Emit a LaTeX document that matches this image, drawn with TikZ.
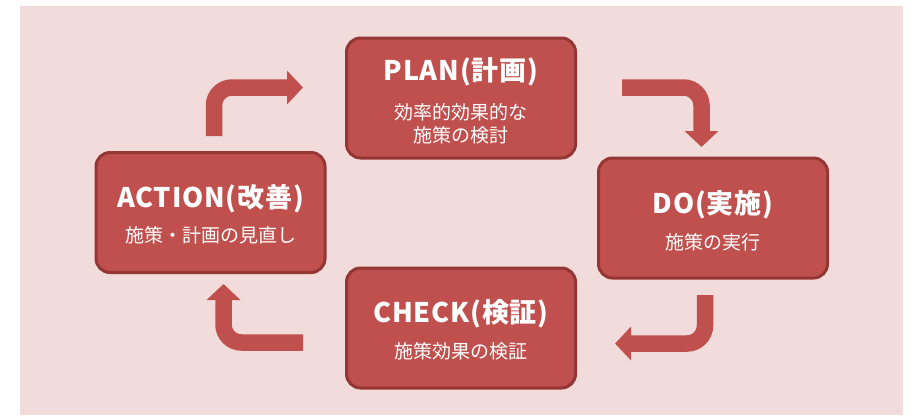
\documentclass[tikz,border=0pt]{standalone}
\usepackage{fontspec}
\setmainfont{Noto Sans CJK JP}
\usetikzlibrary{arrows.meta,calc}
\definecolor{bgpink}{HTML}{F2DCDB}
\definecolor{boxred}{HTML}{C0504D}
\definecolor{boxedge}{HTML}{943634}
\tikzset{
  cyclebox/.style={draw=boxedge, fill=boxred, line width=3pt, rounded corners=14pt,
    minimum width=229pt, minimum height=120pt, inner sep=0pt},
  titletext/.style={text=white, font=\fontsize{27}{30}\selectfont\bfseries\addfontfeature{LetterSpace=3}, anchor=base, inner sep=0pt},
  subtext/.style={text=white, font=\fontsize{19}{23}\selectfont, anchor=base, inner sep=0pt, align=center},
  bentarrow/.style={draw=boxred, line width=16.5pt, rounded corners=18pt,
    -{Triangle[width=33pt,length=16pt]}}
}
\begin{document}
\begin{tikzpicture}[x=1pt,y=-1pt]
\useasboundingbox (0,0) rectangle (918,415);
\fill[bgpink] (20,6) rectangle (903,415);

\node[cyclebox] (plan) at (461,98) {};
\node[cyclebox] (action) at (210.5,212.5) {};
\node[cyclebox] (do) at (713,218) {};
\node[cyclebox] (check) at (461,328) {};

\node[titletext] (plant) at (461,80) {PLAN(計画)};
\node[subtext] (plans) at (461,142) {効率的効果的な\\施策の検討};
\node[titletext] (actiont) at (210.5,207) {ACTION(改善)};
\node[subtext] (actions) at (210.5,242) {施策・計画の見直し};
\node[titletext] (dot) at (713,213) {DO(実施)};
\node[subtext] (dos) at (713,249) {施策の実行};
\node[titletext] (checkt) at (461,322) {CHECK(検証)};
\node[subtext] (checks) at (461,358) {施策効果の検証};

\coordinate (a1s) at (214,136);
\coordinate (a1e) at (303,87.5);
\coordinate (a2s) at (622,87.5);
\coordinate (a2e) at (701.5,147);
\coordinate (a3s) at (705,295);
\coordinate (a3e) at (615,343.5);
\coordinate (a4s) at (303,342.5);
\coordinate (a4e) at (223.5,284);

\draw[bentarrow] (a1s) |- (a1e);
\draw[bentarrow] (a2s) -| (a2e);
\draw[bentarrow] (a3s) |- (a3e);
\draw[bentarrow] (a4s) -| (a4e);
\end{tikzpicture}
\end{document}
